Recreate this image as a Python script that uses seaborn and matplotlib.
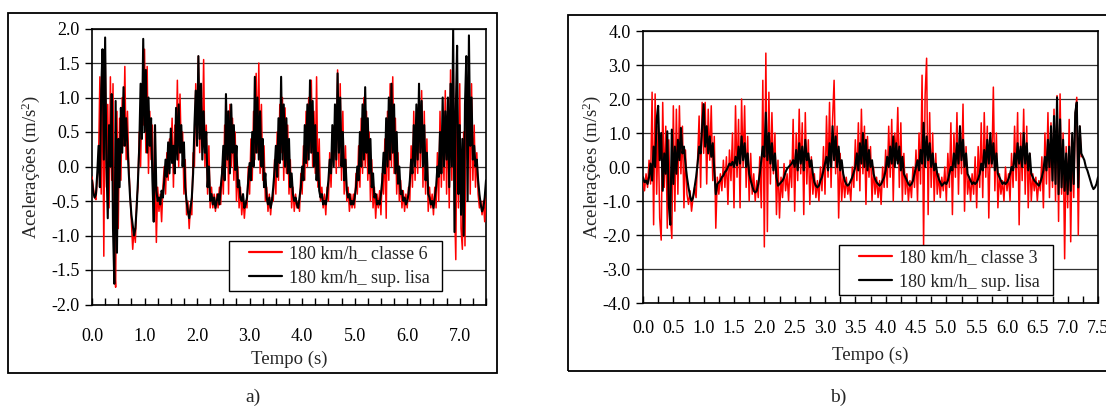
import numpy as np
import matplotlib
matplotlib.use("Agg")
import matplotlib.pyplot as plt
import seaborn as sns
from matplotlib.patches import Rectangle
from matplotlib.ticker import FixedLocator, FixedFormatter

# sampling step of the digitised records (s)
DT = 0.025

# ---- panel a) : 180 km/h, classe 6 (red) vs smooth surface (black)
a_classe6 = [
    -0.15, -0.30, -0.45, -0.48, -0.20, 0.10, 1.30, -0.40, 1.60, -1.30,
    1.70, -0.30, 0.90, -0.60, 1.30, -0.20, 1.20, -1.40, -1.75, 0.80,
    -0.90, 0.70, -0.20, 1.00, 0.30, 1.45, 0.10, 0.80, 0.00, -0.40,
    -0.80, -1.20, -0.90, -1.10, -0.50, -0.30, 0.50, 0.00, 1.00, 0.60,
    1.70, 0.20, 1.45, -0.10, 0.80, 0.10, 0.60, -0.60, 0.00, -1.10,
    -0.30, -0.65, -0.40, -0.80, -0.30, 0.00, -0.40, 0.20, -0.20, 0.40,
    0.10, 0.70, -0.30, 0.60, 0.20, 1.25, 0.00, 1.05, 0.20, 0.50,
    -0.40, 0.10, -0.70, -0.50, -0.90, -0.55, -0.70, 0.20, 0.00, 1.20,
    0.60, 1.60, 0.20, 1.00, 0.30, 1.55, 0.00, 0.60, -0.40, 0.30,
    -0.60, -0.30, -0.60, -0.40, -0.65, -0.40, -0.60, -0.30, -0.55, 0.00,
    -0.40, 0.60, 0.00, 0.80, -0.40, 0.90, 0.00, 0.70, -0.20, 0.50,
    -0.50, 0.00, -0.60, -0.30, -0.70, -0.45, -0.75, -0.50, -0.60, 0.00,
    -0.40, 0.40, -0.20, 0.80, 0.10, 1.35, 0.20, 1.50, -0.10, 0.90,
    -0.20, 0.30, -0.50, -0.30, -0.65, -0.40, -0.70, -0.45, -0.50, 0.10,
    -0.40, 0.50, -0.20, 0.90, 0.20, 1.00, -0.20, 0.85, -0.10, 0.60,
    -0.40, 0.10, -0.60, -0.30, -0.65, -0.40, -0.60, -0.50, -0.65, -0.10,
    -0.40, 0.30, -0.20, 0.80, 0.00, 1.00, 0.20, 1.25, 0.00, 0.80,
    -0.10, 1.30, -0.30, 0.40, -0.50, -0.30, -0.60, -0.40, -0.70, -0.30,
    -0.50, 0.20, -0.30, 0.40, 0.10, 0.70, -0.10, 1.40, 0.00, 1.20,
    -0.20, 0.80, -0.40, 0.30, -0.50, -0.30, -0.65, -0.40, -0.60, -0.40,
    -0.60, -0.10, -0.40, 0.30, -0.30, 0.70, -0.10, 1.00, 0.00, 0.80,
    -0.20, 0.50, -0.50, 0.10, -0.60, -0.30, -0.75, -0.40, -0.60, -0.35,
    -0.70, -0.10, -0.40, 0.40, -0.75, 0.80, -0.20, 1.20, 0.00, 1.30,
    -0.10, 0.70, -0.40, 0.20, -0.50, -0.20, -0.60, -0.35, -0.65, -0.40,
    -0.60, -0.30, -0.50, 0.30, -0.30, 0.80, -0.20, 0.60, -0.10, 1.20,
    0.00, 1.10, -0.30, 0.80, -0.40, 0.40, -0.65, -0.30, -0.60, -0.40,
    -0.70, -0.30, -0.60, 0.20, -0.50, 0.80, -0.30, 0.60, -0.20, 1.10,
    -0.40, 0.80, -0.60, 1.40, -0.20, 1.60, -0.50, -1.35, 1.00, -0.60,
    1.20, -0.90, -1.20, 0.50, -1.15, 1.20, 0.10, 1.50, -0.40, 1.20,
    -0.20, 0.60, -0.30, 0.20, -0.40, -0.60, -0.50, -0.70, -0.50, -0.80,
    -0.40,
]
a_lisa = [
    -0.20, -0.38, -0.45, -0.40, -0.10, 0.30, -0.30, 1.10, 1.70, 0.10,
    1.87, 0.05, -0.75, 0.60, 0.00, 1.05, -0.90, -1.70, 0.95, -1.25,
    0.40, -0.30, 0.85, 0.20, 1.15, 0.30, 0.70, 0.30, -0.10, -0.45,
    -0.70, -0.85, -1.00, -0.90, -0.60, -0.20, 0.30, 1.20, 0.40, 1.85,
    0.50, 1.40, 0.20, 1.00, 0.30, 0.70, -0.20, -0.80, 0.60, -0.35,
    -0.50, -0.45, -0.55, -0.35, -0.45, -0.20, 0.10, -0.15, 0.35, -0.10,
    0.55, 0.05, 0.30, -0.10, 0.85, 0.10, 0.90, 0.20, 0.60, 0.00,
    0.35, -0.30, -0.50, -0.65, -0.75, -0.60, -0.45, -0.10, 0.60, 1.10,
    0.30, 1.60, 0.40, 1.20, 0.10, 0.80, 0.20, 0.50, -0.30, 0.00,
    -0.50, -0.40, -0.55, -0.45, -0.60, -0.50, -0.40, -0.55, -0.30, -0.10,
    0.30, -0.20, 1.05, 0.10, 0.80, -0.10, 0.90, 0.20, 0.60, -0.05,
    0.30, -0.30, -0.20, -0.45, -0.50, -0.40, -0.60, -0.55, -0.45, -0.20,
    0.05, -0.20, 0.50, 0.00, 1.30, 0.20, 1.00, 0.10, 0.80, 0.00,
    0.40, -0.30, -0.10, -0.45, -0.55, -0.45, -0.60, -0.50, -0.30, -0.05,
    0.30, -0.15, 0.70, 0.05, 1.30, 0.10, 0.90, 0.00, 0.70, -0.10,
    0.40, -0.30, -0.10, -0.40, -0.50, -0.45, -0.55, -0.60, -0.45, -0.30,
    0.00, -0.20, 0.60, 0.05, 0.90, 0.10, 1.25, 0.20, 0.95, 0.00,
    0.60, -0.20, 0.20, -0.35, -0.45, -0.40, -0.55, -0.50, -0.55, -0.40,
    -0.20, 0.10, -0.10, 0.60, 0.00, 0.90, 0.10, 1.35, 0.20, 1.00,
    0.00, 0.50, -0.20, 0.10, -0.35, -0.45, -0.40, -0.55, -0.50, -0.55,
    -0.45, -0.30, 0.00, -0.20, 0.50, 0.00, 0.90, 0.10, 1.15, 0.20,
    0.70, -0.10, 0.40, -0.30, -0.10, -0.45, -0.40, -0.55, -0.50, -0.55,
    -0.40, -0.20, 0.20, -0.10, 0.70, 0.00, 1.00, 0.10, 1.20, 0.20,
    0.90, -0.10, 0.50, -0.25, 0.00, -0.40, -0.35, -0.50, -0.45, -0.55,
    -0.50, -0.40, -0.20, 0.10, -0.10, 0.60, 0.00, 0.90, 0.10, 1.20,
    0.20, 0.95, 0.00, 0.60, -0.20, 0.20, -0.40, -0.45, -0.55, -0.50,
    -0.60, -0.45, -0.30, 0.00, -0.15, 0.50, -0.10, 1.00, 0.00, 0.80,
    0.10, 1.00, -0.30, 1.20, 0.00, 2.00, -0.95, 0.80, 1.75, -0.40,
    0.60, -0.70, 0.40, -1.00, 0.90, 1.60, -0.50, 1.90, 0.30, 1.00,
    0.10, 0.30, 0.00, 0.10, -0.20, -0.40, -0.55, -0.65, -0.60, -0.45,
    -0.20,
]

# ---- panel b) : 180 km/h, classe 3 (red) vs smooth surface (black)
b_classe3 = [
    -0.40, -0.70, -0.20, -0.60, 0.20, -0.50, 2.20, -1.70, 2.15, -0.80,
    1.20, -1.50, -2.15, 1.90, -0.60, 1.20, -1.80, 0.80, -1.40, -2.10,
    1.80, -1.30, 1.70, -0.80, 1.80, -0.20, 1.20, -1.20, 0.50, -0.80,
    -1.10, -0.70, -1.30, -0.90, -0.60, -0.90, 0.20, 1.50, -0.60, 1.90,
    0.40, 1.90, -0.50, 1.70, 0.20, 1.80, -0.40, 0.90, -1.80, -0.30,
    -0.80, -0.20, -0.70, 0.20, -0.60, 0.30, -1.10, 0.50, -0.40, 1.00,
    -1.20, 1.80, -0.30, 1.40, -1.20, 2.00, 0.00, 1.80, -0.60, 0.90,
    -1.00, 0.40, -0.80, -0.20, -1.00, -0.40, -0.90, 0.30, -1.20, 2.55,
    -2.35, 3.35, -1.90, 2.20, -0.50, 1.60, -0.20, 1.00, -1.40, 0.20,
    -1.50, -0.30, -0.90, 0.10, -0.70, -0.20, -1.00, 0.20, -0.60, 1.40,
    -1.30, 1.00, -0.40, 1.70, -0.20, 1.30, -1.40, 1.60, -0.50, 0.80,
    -1.10, 0.30, -0.80, -0.20, -0.90, -0.40, -1.00, 0.00, -0.70, 0.60,
    -0.80, 1.50, -0.30, 1.90, -0.60, 1.40, 2.55, -0.20, 1.20, -1.50,
    0.40, -1.00, -0.20, -0.90, -0.30, -0.80, -0.50, -1.00, 0.00, -0.60,
    0.80, -0.40, 1.30, -0.70, 1.70, -0.20, 1.20, -1.10, 0.90, -0.30,
    0.60, -1.00, 0.00, -0.80, -0.30, -0.90, -0.40, -1.10, 0.00, -0.60,
    0.50, -0.60, 1.20, -0.30, 1.40, -1.00, 1.00, 0.20, 1.75, -0.60,
    1.30, -1.00, 0.40, -0.80, -0.20, -1.00, -0.40, -0.90, 0.00, -0.60,
    0.50, -1.00, 1.00, -0.50, 2.70, -2.30, 2.10, 3.20, -1.40, 1.60,
    -0.60, 1.00, -1.00, 0.40, -0.80, -0.20, -0.90, -0.30, -0.70, 0.00,
    -1.00, 0.40, -0.60, 1.30, -1.40, 1.00, -0.30, 1.60, -0.80, 1.20,
    -0.20, 1.85, -1.30, 0.60, -0.80, -0.30, -1.00, -0.20, -0.80, 0.30,
    -1.20, 0.60, -0.60, 1.30, -0.90, 1.60, -0.30, 1.20, -1.50, 0.80,
    0.00, 2.35, -0.70, 1.00, -1.20, -0.20, -0.80, -0.40, -1.00, 0.00,
    -0.70, -0.20, -1.00, 0.40, -0.60, 1.20, -0.40, 1.60, -1.70, 1.00,
    -0.40, 1.70, -0.80, 1.20, -1.20, 0.40, -1.00, -0.20, -0.70, -0.30,
    -1.00, -0.40, -0.70, 0.30, -1.20, 1.00, -0.50, 1.60, -0.90, 1.30,
    -0.60, 1.70, -1.00, 2.10, -1.60, 2.15, -0.80, 1.00, -2.70, 0.60,
    -1.20, 1.40, -2.20, 0.80, -0.90, 1.50, 2.05, -2.00, 1.20, 0.30,
]
b_lisa = [
    -0.30, -0.45, -0.40, -0.50, -0.30, 0.10, -0.40, 0.60, 0.00, 1.40,
    1.80, 0.20, 1.00, -0.70, 0.40, -0.20, 1.05, -1.10, -1.70, 1.10,
    -0.50, 0.60, -0.20, 0.80, 0.20, 1.15, 0.40, 0.60, 0.10, -0.30,
    -0.60, -0.85, -1.00, -0.90, -0.60, -0.30, 0.10, 0.60, 0.40, 1.20,
    1.85, 0.60, 1.20, 0.40, 0.90, 0.30, 0.70, -0.10, -0.80, -0.50,
    -0.45, -0.40, -0.30, -0.25, -0.15, -0.10, 0.00, 0.10, 0.05, 0.15,
    0.00, 0.30, 0.05, 0.60, 0.10, 0.90, 0.20, 0.70, 0.00, 0.40,
    -0.20, -0.40, -0.55, -0.70, -0.75, -0.70, -0.50, -0.20, 0.20, 0.60,
    0.30, 1.60, 0.20, 1.00, 0.10, 0.70, -0.10, 0.40, -0.30, -0.55,
    -0.50, -0.45, -0.40, -0.30, -0.15, -0.05, 0.00, 0.05, 0.10, 0.20,
    0.00, 0.50, -0.10, 0.70, 0.10, 0.60, -0.10, 0.80, 0.20, 0.40,
    0.00, 0.20, -0.20, -0.45, -0.55, -0.60, -0.55, -0.40, -0.30, -0.10,
    0.10, 0.30, -0.10, 0.70, 0.00, 1.20, 0.20, 0.90, 0.00, 0.60,
    -0.10, 0.20, -0.20, -0.40, -0.50, -0.55, -0.50, -0.40, -0.30, -0.15,
    0.00, 0.40, -0.10, 0.70, 0.10, 1.00, 0.00, 0.80, -0.10, 0.50,
    0.00, 0.20, -0.20, -0.35, -0.45, -0.50, -0.55, -0.50, -0.40, -0.30,
    -0.10, 0.30, 0.00, 0.60, 0.10, 0.90, 0.00, 0.70, 0.10, 0.60,
    -0.10, 0.30, -0.20, -0.30, -0.40, -0.50, -0.55, -0.50, -0.40, -0.20,
    0.00, 0.20, -0.10, 0.50, 0.10, 1.30, 0.00, 0.90, 0.20, 0.70,
    0.00, 0.40, -0.10, 0.10, -0.20, -0.35, -0.45, -0.55, -0.50, -0.45,
    -0.50, -0.40, -0.20, 0.00, -0.10, 0.40, 0.00, 0.70, 0.10, 1.20,
    0.20, 0.80, 0.00, 0.40, -0.20, -0.30, -0.40, -0.50, -0.45, -0.50,
    -0.45, -0.35, -0.20, 0.10, -0.10, 0.50, 0.00, 0.80, 0.10, 1.00,
    0.10, 0.70, -0.10, 0.40, -0.20, -0.30, -0.40, -0.50, -0.45, -0.50,
    -0.45, -0.35, -0.20, 0.00, -0.10, 0.40, 0.00, 0.70, 0.10, 0.60,
    0.00, 1.00, 0.10, 0.70, -0.10, 0.40, -0.20, -0.30, -0.40, -0.45,
    -0.50, -0.55, -0.45, -0.30, -0.10, 0.30, -0.10, 0.80, 0.00, 1.20,
    -0.40, 1.50, -0.50, 2.05, -0.80, 1.40, -0.60, 0.80, -0.70, 0.40,
    -0.80, 0.60, -0.70, 1.00, -0.50, 1.60, 1.90, -0.60, 1.20, 0.40,
    0.30, 0.20, 0.00, -0.10, -0.25, -0.40, -0.55, -0.65, -0.60, -0.50,
    -0.30,
]

labels_a = ["180 km/h_ classe 6", "180 km/h_ sup. lisa"]
labels_b = ["180 km/h_ classe 3", "180 km/h_ sup. lisa"]
x_label = "Tempo (s)"
y_label = "Acelerações (m/s$^{2}$)"
yticks_a = [-2.0, -1.5, -1.0, -0.5, 0.0, 0.5, 1.0, 1.5, 2.0]
yticks_b = [-4.0, -3.0, -2.0, -1.0, 0.0, 1.0, 2.0, 3.0, 4.0]
xlabels_a = [0.0, 1.0, 2.0, 3.0, 4.0, 5.0, 6.0, 7.0]
xlabels_b = [0.0, 0.5, 1.0, 1.5, 2.0, 2.5, 3.0, 3.5, 4.0, 4.5, 5.0, 5.5, 6.0, 6.5, 7.0, 7.5]
captions = ["a)", "b)"]

sns.set_theme(style="white")
plt.rcParams["font.family"] = ["Liberation Serif", "DejaVu Serif"]
plt.rcParams["axes.unicode_minus"] = False
plt.rcParams["mathtext.fontset"] = "custom"
plt.rcParams["mathtext.rm"] = "Liberation Serif"
plt.rcParams["mathtext.it"] = "Liberation Serif:italic"

W, H = 1106, 408
fig = plt.figure(figsize=(W / 100, H / 100), dpi=100)
fig.patch.set_facecolor("white")

# outer frames of the two sub-figures
fig.patches.append(Rectangle((8 / W, 1 - 373 / H), 489 / W, 360 / H, transform=fig.transFigure,
                             fill=False, edgecolor="black", linewidth=1.3, zorder=0))
fig.patches.append(Rectangle((568 / W, 1 - 371 / H), 560 / W, 356 / H, transform=fig.transFigure,
                             fill=False, edgecolor="black", linewidth=1.3, zorder=0))

axA = fig.add_axes([92 / W, 1 - 304.5 / H, 394 / W, 276 / H])
axB = fig.add_axes([643 / W, 1 - 303 / H, 455 / W, 272 / H])

TICK_FS = 13
LAB_FS = 13.5
LEG_FS = 13


def draw(ax, red, black, labels, yticks, xlabels, xpad, box, ylab_x, xlab_y):
    t_red = np.arange(len(red)) * DT
    t_blk = np.arange(len(black)) * DT
    sns.lineplot(x=t_red, y=red, ax=ax, color="#ff0000", linewidth=1.1,
                 sort=False, estimator=None, label=labels[0], zorder=3)
    sns.lineplot(x=t_blk, y=black, ax=ax, color="black", linewidth=1.5,
                 sort=False, estimator=None, label=labels[1], zorder=4)
    ax.set_xlim(0, 7.5)
    ax.set_ylim(yticks[0], yticks[-1])
    ax.set_yticks(yticks)
    ax.set_yticklabels([f"{v:.1f}" for v in yticks], fontsize=TICK_FS)
    # tick marks every 0.25 s, labels only at the labelled positions
    ticks = [i * 0.25 for i in range(31)]
    lab = []
    for tk in ticks:
        lab.append(f"{tk:.1f}" if any(abs(tk - v) < 1e-9 for v in xlabels) else "")
    ax.xaxis.set_major_locator(FixedLocator(ticks))
    ax.xaxis.set_major_formatter(FixedFormatter(lab))
    ax.tick_params(axis="x", direction="in", length=5, width=1, bottom=True, top=False,
                   labelsize=TICK_FS, pad=xpad, colors="black")
    ax.tick_params(axis="y", direction="out", length=5, width=1, left=True, right=False,
                   labelsize=TICK_FS, pad=4, colors="black")
    ax.yaxis.grid(True, color="#333333", linewidth=0.9)
    ax.xaxis.grid(False)
    ax.set_axisbelow(True)
    for s in ax.spines.values():
        s.set_color("black")
        s.set_linewidth(1.2)
    ax.set_xlabel(x_label, fontsize=LAB_FS)
    ax.set_ylabel(y_label, fontsize=LAB_FS)
    ax.yaxis.set_label_coords(ylab_x, 0.5)
    ax.xaxis.set_label_coords(0.5, xlab_y)
    ax.set_facecolor("white")
    # legend: framed box drawn separately so the padding matches the original
    x0, y0, x1, y1 = box
    frame = Rectangle((x0 / W, 1 - y1 / H), (x1 - x0) / W, (y1 - y0) / H,
                      transform=fig.transFigure, facecolor="white", edgecolor="black",
                      linewidth=1.0, zorder=9, clip_on=False)
    ax.add_patch(frame)
    leg = ax.legend(loc="center left", bbox_to_anchor=((x0 + 20) / W, 1 - (y0 + y1) / 2 / H),
                    bbox_transform=fig.transFigure, frameon=False, fontsize=LEG_FS,
                    handlelength=1.85, handletextpad=0.35, borderpad=0.0,
                    labelspacing=0.42, borderaxespad=0)
    for line in leg.get_lines():
        line.set_linewidth(1.6)
    leg.set_zorder(10)


draw(axA, a_classe6, a_lisa, labels_a, yticks_a, xlabels_a, 17, (229, 241, 442, 291),
     (42 - 92) / 394, (304.5 - 351) / 276)
draw(axB, b_classe3, b_lisa, labels_b, yticks_b, xlabels_b, 12, (839, 245, 1053, 295),
     (603 - 643) / 455, (303 - 347) / 272)

fig.text(253 / W, 1 - 397 / H, captions[0], ha="center", va="center", fontsize=14)
fig.text(838 / W, 1 - 397 / H, captions[1], ha="center", va="center", fontsize=14)

fig.savefig("out.png", dpi=100, facecolor="white")
